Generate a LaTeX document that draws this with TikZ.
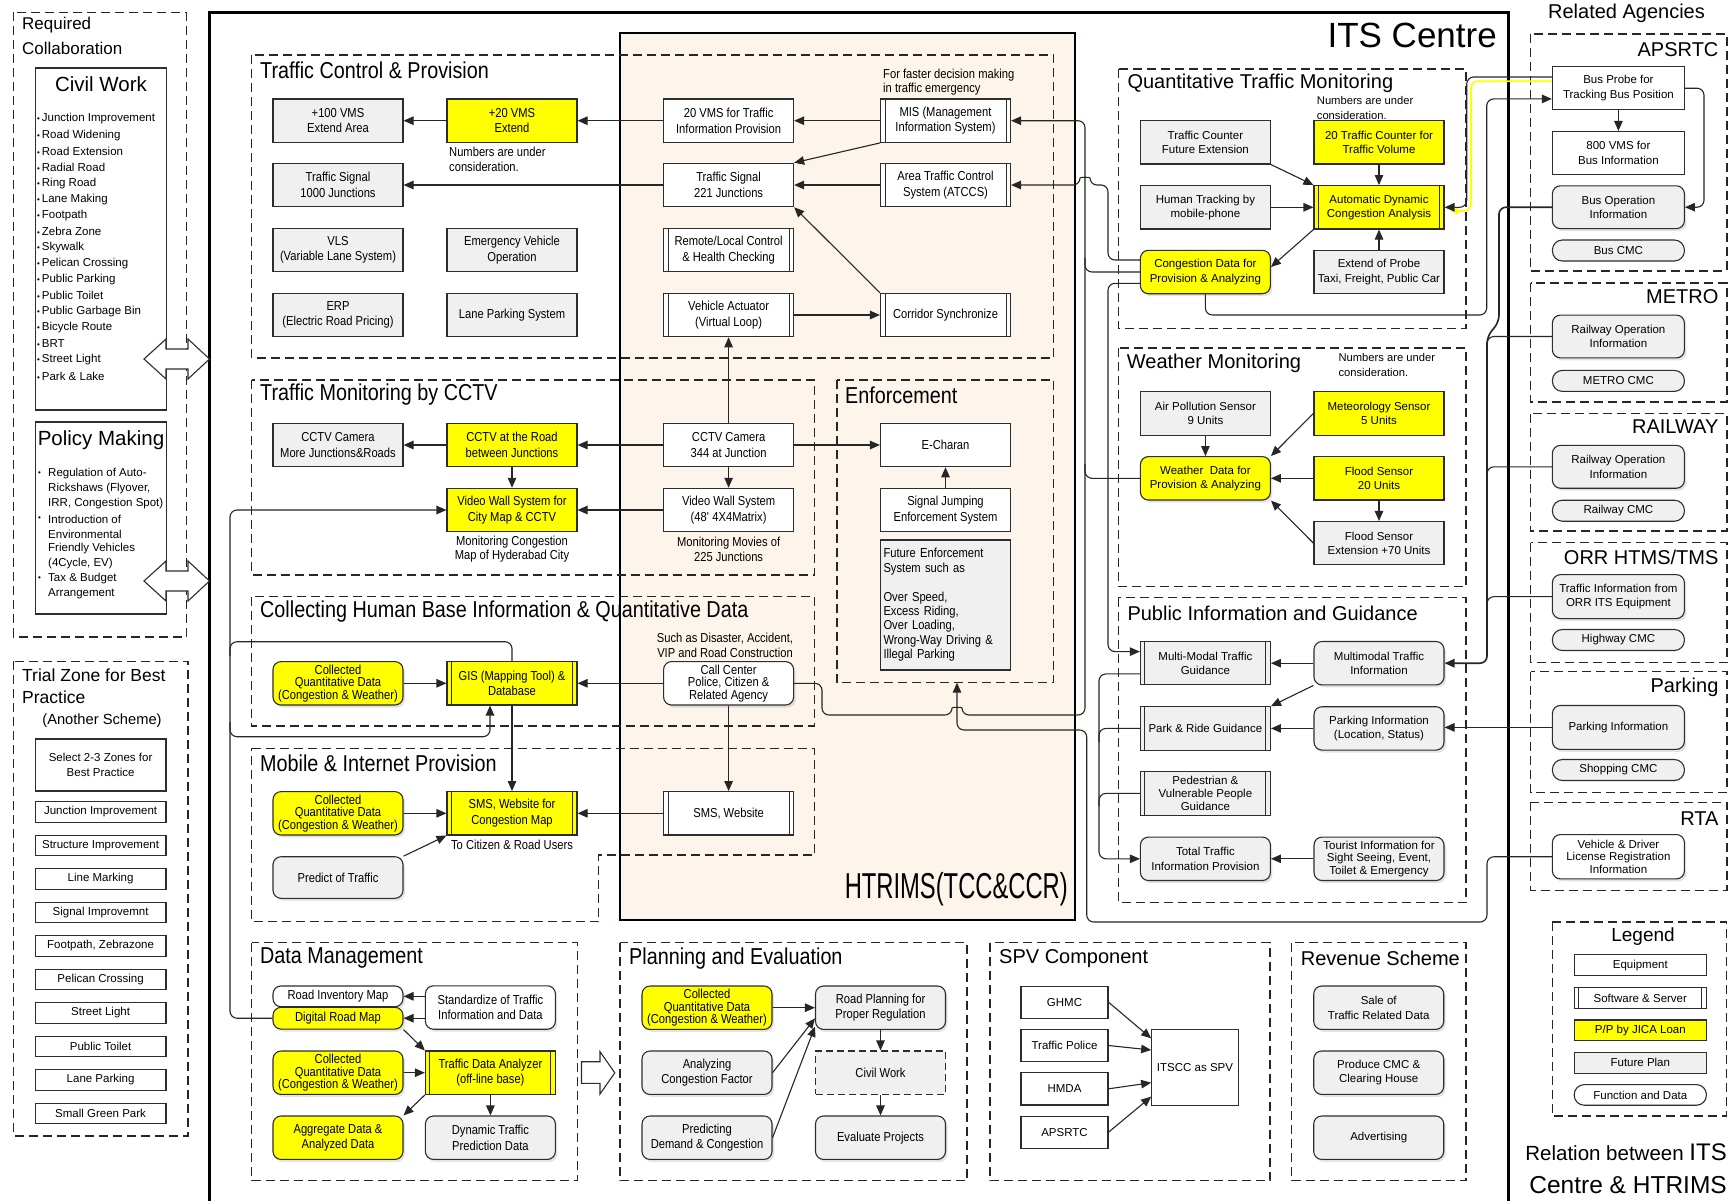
\documentclass[tikz,border=0pt]{standalone}
\usepackage{fontspec}
\setmainfont{Liberation Sans}
\newfontfamily\cond[FakeStretch=0.86]{Liberation Sans}
\newfontfamily\condwide[FakeStretch=0.66]{Liberation Sans}
\usetikzlibrary{arrows.meta,calc,shadows}
\definecolor{peach}{RGB}{253,244,235}
\definecolor{futgray}{RGB}{240,240,240}
\definecolor{jicayellow}{RGB}{255,255,0}
\definecolor{edge}{RGB}{45,45,45}
\begin{document}
\begin{tikzpicture}[x=1pt,y=-1pt,
  box/.style={draw=edge, line width=1.1pt, align=center, inner sep=1pt, fill=white,
    minimum width=130pt, minimum height=43.4pt},
  fm/.style={font=\cond\fontsize{13pt}{15.5pt}\selectfont},
  fmt/.style={font=\cond\fontsize{13pt}{12.6pt}\selectfont},
  fr/.style={font=\fontsize{11.5pt}{14.5pt}\selectfont},
  frt/.style={font=\fontsize{11.5pt}{12.6pt}\selectfont},
  jica/.style={fill=jicayellow},
  future/.style={fill=futgray},
  soft/.style={path picture={\draw[edge, line width=0.9pt]
      ([xshift=4.5pt]path picture bounding box.north west) -- ([xshift=4.5pt]path picture bounding box.south west)
      ([xshift=-4.5pt]path picture bounding box.north east) -- ([xshift=-4.5pt]path picture bounding box.south east);}},
  func/.style={box, rounded corners=8pt, drop shadow={shadow xshift=2pt, shadow yshift=-2.5pt, opacity=0.22}},
  pill/.style={box, rounded corners=10pt, minimum height=21pt},
  grp/.style={draw=black!85, line width=1.4pt, dash pattern=on 9pt off 5pt},
  gtitle/.style={anchor=west, inner sep=0pt, font=\cond\fontsize{23pt}{26pt}\selectfont},
  rtitle/.style={anchor=west, inner sep=0pt, font=\fontsize{20pt}{24pt}\selectfont},
  agtitle/.style={anchor=east, inner sep=0pt, font=\fontsize{20pt}{24pt}\selectfont},
  link/.style={draw=black!85, line width=1.1pt, rounded corners=7pt},
  arr/.style={link, -{Triangle[length=10pt,width=8.5pt]}},
  note/.style={inner sep=0pt, align=left, font=\cond\fontsize{13pt}{14.7pt}\selectfont},
  rnote/.style={inner sep=0pt, align=left, font=\fontsize{11.2pt}{15pt}\selectfont},
  listitem/.style={anchor=west, inner sep=0pt, font=\fontsize{11.5pt}{13pt}\selectfont},
  blockarrow/.style={fill=white, draw=edge, line width=1.1pt},
]
\useasboundingbox (0,0) rectangle (1729,1200);
\fill[white] (0,0) rectangle (1729,1200);

% ---------- frames ----------
\draw[line width=2pt, fill=peach] (620,33.3) rectangle (1075,920);
\draw[line width=2.6pt] (209.5,1210) -- (209.5,12.7) -- (1508.3,12.7) -- (1508.3,1210);
\node[anchor=east, inner sep=0pt, font=\fontsize{35pt}{40pt}\selectfont] at (1497,35.5) {ITS Centre};
\node[anchor=east, inner sep=0pt, font=\condwide\fontsize{36pt}{40pt}\selectfont] at (1068,889) {HTRIMS(TCC\&CCR)};

% ---------- left column ----------
\draw[grp] (13.4,12.3) rectangle (186.2,637);
\node[anchor=west, inner sep=0pt, font=\fontsize{17pt}{20pt}\selectfont] at (22,25.4) {Required};
\node[anchor=west, inner sep=0pt, font=\fontsize{17pt}{20pt}\selectfont] at (22,48.4) {Collaboration};
\draw[draw=edge, line width=1.1pt] (35.2,68) rectangle (166.8,410);
\node[inner sep=0pt, font=\fontsize{20.5pt}{24pt}\selectfont] at (101,84) {Civil Work};
\foreach \t [count=\i from 0] in {Junction Improvement, Road Widening, Road Extension, Radial Road,
  Ring Road, Lane Making, Footpath, Zebra Zone, Skywalk, Pelican Crossing, Public Parking,
  Public Toilet, Public Garbage Bin, Bicycle Route, BRT, Street Light, Park \& Lake}
  {\node[listitem] at (37,119+16.06*\i) {{\fontsize{8pt}{8pt}\selectfont\textbullet}\,\t};}
\draw[draw=edge, line width=1.1pt] (35.2,422) rectangle (166.8,614);
\node[inner sep=0pt, font=\fontsize{20.5pt}{24pt}\selectfont] at (101,440) {Policy Making};
\foreach \yy in {474,519,579}
  {\node[listitem] at (38,\yy) {{\fontsize{8pt}{8pt}\selectfont\textbullet}};}
\node[listitem] at (48,474) {Regulation of Auto-};
\node[listitem] at (48,489) {Rickshaws (Flyover,};
\node[listitem] at (48,504) {IRR, Congestion Spot)};
\node[listitem] at (48,519) {Introduction of};
\node[listitem] at (48,534) {Environmental};
\node[listitem] at (48,549) {Friendly Vehicles};
\node[listitem] at (48,564) {(4Cycle, EV)};
\node[listitem] at (48,579) {Tax \& Budget};
\node[listitem] at (48,594) {Arrangement};

\draw[grp] (13.4,661.4) rectangle (188,1136);
\node[anchor=west, inner sep=0pt, font=\fontsize{17.5pt}{20pt}\selectfont] at (22,675.6) {Trial Zone for Best};
\node[anchor=west, inner sep=0pt, font=\fontsize{17.5pt}{20pt}\selectfont] at (22,697) {Practice};
\node[inner sep=0pt, font=\fontsize{14.7pt}{17pt}\selectfont] at (102,720.2) {(Another Scheme)};
\begin{scope}[every node/.style={box, fr, minimum width=130.8pt, minimum height=20.5pt}]
\node[minimum height=52pt] (tzsel) at (100.6,765) {Select 2-3 Zones for\\Best Practice};
\node (tz1) at (100.6,812) {Junction Improvement};
\node (tz2) at (100.6,845.5) {Structure Improvement};
\node (tz3) at (100.6,879) {Line Marking};
\node (tz4) at (100.6,912.5) {Signal Improvemnt};
\node (tz5) at (100.6,946) {Footpath, Zebrazone};
\node (tz6) at (100.6,979.5) {Pelican Crossing};
\node (tz7) at (100.6,1013) {Street Light};
\node (tz8) at (100.6,1046.5) {Public Toilet};
\node (tz9) at (100.6,1080) {Lane Parking};
\node (tz10) at (100.6,1113.5) {Small Green Park};
\end{scope}

% ---------- groups inside the ITS centre ----------
\draw[grp] (251.6,55) rectangle (1053.7,358);
\draw[grp] (251.6,380) rectangle (814.4,575);
\draw[grp] (837,380) rectangle (1053.7,682.7);
\draw[grp] (251.6,596.7) rectangle (814.4,726);
\draw[grp] (251.6,748.3) -- (814.4,748.3) -- (814.4,855) -- (598.5,855) -- (598.5,921.7) -- (251.6,921.7) -- cycle;
\draw[grp] (251.6,942.7) rectangle (577.2,1180.7);
\draw[grp] (620,942.7) rectangle (966.8,1180.7);
\draw[grp] (990,942.7) rectangle (1270,1180.7);
\draw[grp] (1291.7,942.7) rectangle (1466,1180.7);
\draw[grp] (1118.3,69) rectangle (1466,328.3);
\draw[grp] (1118.3,348) rectangle (1466,586.5);
\draw[grp] (1118.3,597.7) rectangle (1466,902.5);

\node[gtitle] at (260,70.7) {Traffic Control \& Provision};
\node[gtitle] at (260,395) {Traffic Monitoring by CCTV};
\node[gtitle] at (845,395) {Enforcement};
\node[gtitle] at (260,611.7) {Collecting Human Base Information \& Quantitative Data};
\node[gtitle] at (260,763.3) {Mobile \& Internet Provision};
\node[gtitle] at (260,958.3) {Data Management};
\node[gtitle] at (629,958.3) {Planning and Evaluation};
\node[rtitle] at (999,958.3) {SPV Component};
\node[rtitle] at (1300.7,958.3) {Revenue Scheme};
\node[rtitle] at (1127.3,83.3) {Quantitative Traffic Monitoring};
\node[rtitle] at (1126.7,363.5) {Weather Monitoring};
\node[rtitle] at (1127.3,613.3) {Public Information and Guidance};

% ---------- related agencies ----------
\node[inner sep=0pt, font=\fontsize{20pt}{24pt}\selectfont] at (1626.5,13) {Related Agencies};
\draw[grp] (1530.5,33.9) rectangle (1726.8,271);
\draw[grp] (1530.5,283) rectangle (1726.8,402);
\draw[grp] (1530.5,413.6) rectangle (1726.8,531);
\draw[grp] (1530.5,542.5) rectangle (1726.8,662.4);
\draw[grp] (1530.5,671.6) rectangle (1726.8,792.3);
\draw[grp] (1530.5,802.4) rectangle (1726.8,890.2);
\draw[grp] (1552.3,921.9) rectangle (1726.6,1116);
\node[agtitle] at (1718.6,50) {APSRTC};
\node[agtitle] at (1718.6,296.4) {METRO};
\node[agtitle] at (1718.6,426.8) {RAILWAY};
\node[agtitle] at (1718.6,557) {ORR HTMS/TMS};
\node[agtitle] at (1718.6,687.7) {Parking};
\node[agtitle] at (1718.6,818.5) {RTA};
\node[inner sep=0pt, font=\fontsize{19pt}{22pt}\selectfont] at (1643,937) {Legend};
\node[anchor=east, inner sep=0pt] at (1727,1152) {\fontsize{20.5pt}{24pt}\selectfont Relation between \fontsize{24pt}{28pt}\selectfont ITS};
\node[anchor=east, inner sep=0pt, font=\fontsize{24.5pt}{28pt}\selectfont] at (1727,1185) {Centre \& HTRIMS};

% ---------- notes ----------
\node[note, anchor=west] at (449,159.4) {Numbers are under\\consideration.};
\node[note, anchor=west] at (883,82.2) {For faster decision making\\in traffic emergency};
\node[note, align=center] at (512,549.2) {Monitoring Congestion\\Map of Hyderabad City};
\node[note, align=center] at (728.6,549.2) {Monitoring Movies of\\225 Junctions};
\node[note, align=center] at (725,645) {Such as Disaster, Accident,\\VIP and Road Construction};
\node[note, align=center] at (512,845) {To Citizen \& Road Users};
\node[rnote, anchor=west] at (1316.7,107.5) {Numbers are under\\consideration.};
\node[rnote, anchor=west] at (1338.3,365.4) {Numbers are under\\consideration.};

% ---------- block arrows ----------
\foreach \yy in {359,581}
  {\draw[blockarrow] (144,\yy) -- (166,\yy-20) -- (166,\yy-10) -- (188,\yy-10) -- (188,\yy-20) -- (209.5,\yy)
     -- (188,\yy+20) -- (188,\yy+10) -- (166,\yy+10) -- (166,\yy+20) -- cycle;}
\draw[blockarrow] (581.5,1061.7) -- (600,1061.7) -- (600,1051.7) -- (614.8,1072.8) -- (600,1094) -- (600,1083.3) -- (581.5,1083.3) -- cycle;

% ---------- nodes: traffic control & provision ----------
\node[box,future,fm] (vms100) at (338,120.7) {+100 VMS\\Extend Area};
\node[box,jica,fm] (vms20x) at (512,120.7) {+20 VMS\\Extend};
\node[box,fm] (vms20) at (728.6,120.7) {20 VMS for Traffic\\Information Provision};
\node[box,soft,fm] (mis) at (945.5,120.7) {MIS (Management\\Information System)};
\node[box,future,fm] (ts1000) at (338,185) {Traffic Signal\\1000 Junctions};
\node[box,fm] (ts221) at (728.6,185) {Traffic Signal\\221 Junctions};
\node[box,soft,fm] (atccs) at (945.5,185) {Area Traffic Control\\System (ATCCS)};
\node[box,future,fm] (vls) at (338,250) {VLS\\(Variable Lane System)};
\node[box,future,fm] (evo) at (512,250) {Emergency Vehicle\\Operation};
\node[box,soft,fm] (remote) at (728.6,250) {Remote/Local Control\\\& Health Checking};
\node[box,future,fm] (erp) at (338,315) {ERP\\(Electric Road Pricing)};
\node[box,future,fm] (lps) at (512,315) {Lane Parking System};
\node[box,soft,fm] (vact) at (728.6,315) {Vehicle Actuator\\(Virtual Loop)};
\node[box,soft,fm] (corr) at (945.5,315) {Corridor Synchronize};

% ---------- nodes: CCTV and enforcement ----------
\node[box,future,fm] (cctvmore) at (338,445) {CCTV Camera\\More Junctions\&Roads};
\node[box,jica,fm] (cctvroad) at (512,445) {CCTV at the Road\\between Junctions};
\node[box,fm] (cctv344) at (728.6,445) {CCTV Camera\\344 at Junction};
\node[box,fm] (echaran) at (945.5,445) {E-Charan};
\node[box,jica,fm] (vwall) at (512,510) {Video Wall System for\\City Map \& CCTV};
\node[box,fm] (vwall48) at (728.6,510) {Video Wall System\\(48\textquotesingle{} 4X4Matrix)};
\node[box,fm] (sjump) at (945.5,510) {Signal Jumping\\Enforcement System};
\node[box,future,font=\cond\fontsize{13pt}{14.4pt}\selectfont, minimum height=130pt, text width=124pt, align=left]
  (futenf) at (945.5,605) {Future Enforcement\\System such as\\[14.4pt]Over Speed,\\Excess Riding,\\Over Loading,\\Wrong-Way Driving \&\\Illegal Parking};

% ---------- nodes: collecting and mobile ----------
\node[func,jica,fmt] (coll1) at (338,683.3) {Collected\\Quantitative Data\\(Congestion \& Weather)};
\node[box,jica,soft,fm] (gis) at (512,683.3) {GIS (Mapping Tool) \&\\Database};
\node[func,fmt] (callc) at (728.6,683.3) {Call Center\\Police, Citizen \&\\Related Agency};
\node[func,jica,fmt] (coll2) at (338,813.3) {Collected\\Quantitative Data\\(Congestion \& Weather)};
\node[box,jica,soft,fm] (smsweb) at (512,813.3) {SMS, Website for\\Congestion Map};
\node[box,soft,fm] (sms) at (728.6,813.3) {SMS, Website};
\node[func,future,fm,minimum height=41.6pt] (predict) at (338,877.5) {Predict of Traffic};

% ---------- nodes: data management ----------
\node[func,fm,minimum height=20.7pt] (rim) at (338,996.3) {Road Inventory Map};
\node[func,jica,fm,minimum height=21.7pt] (drm) at (338,1018.2) {Digital Road Map};
\node[func,fm] (std) at (490.4,1007.5) {Standardize of Traffic\\Information and Data};
\node[func,jica,fmt] (coll3) at (338,1072.7) {Collected\\Quantitative Data\\(Congestion \& Weather)};
\node[box,jica,soft,fm] (tda) at (490.4,1072.7) {Traffic Data Analyzer\\(off-line base)};
\node[func,jica,fm] (aggr) at (338,1137.7) {Aggregate Data \&\\Analyzed Data};
\node[func,future,fm] (dyn) at (490.4,1137.7) {Dynamic Traffic\\Prediction Data};

% ---------- nodes: planning and evaluation ----------
\node[func,jica,fmt] (coll4) at (707,1007.7) {Collected\\Quantitative Data\\(Congestion \& Weather)};
\node[func,future,fm] (rplan) at (880.5,1007.7) {Road Planning for\\Proper Regulation};
\node[func,future,fm] (anal) at (707,1072.7) {Analyzing\\Congestion Factor};
\node[box,future,fm,dash pattern=on 7pt off 4pt] (civ) at (880.5,1072.7) {Civil Work};
\node[func,future,fm] (pred) at (707,1137.7) {Predicting\\Demand \& Congestion};
\node[func,future,fm] (evalp) at (880.5,1137.7) {Evaluate Projects};

% ---------- nodes: SPV and revenue ----------
\begin{scope}[every node/.append style={fr}]
\node[box,minimum width=87pt,minimum height=32.3pt] (ghmc) at (1064.5,1002.2) {GHMC};
\node[box,minimum width=87pt,minimum height=32.3pt] (tpol) at (1064.5,1045.5) {Traffic Police};
\node[box,minimum width=87pt,minimum height=32.3pt] (hmda) at (1064.5,1088.8) {HMDA};
\node[box,minimum width=87pt,minimum height=32.3pt] (aps) at (1064.5,1132.2) {APSRTC};
\node[box,minimum width=86.6pt,minimum height=75.7pt] (itscc) at (1195,1067.2) {ITSCC as SPV};
\node[func,future] (sale) at (1378.7,1007.7) {Sale of\\Traffic Related Data};
\node[func,future] (cmc) at (1378.7,1072.7) {Produce CMC \&\\Clearing House};
\node[func,future] (adv) at (1378.7,1137.7) {Advertising};

% ---------- nodes: quantitative traffic monitoring ----------
\node[box,future] (tcfut) at (1205.4,142.3) {Traffic Counter\\Future Extension};
\node[box,jica] (tc20) at (1379,142.3) {20 Traffic Counter for\\Traffic Volume};
\node[box,future] (human) at (1205.4,207.3) {Human Tracking by\\mobile-phone};
\node[box,jica,soft] (adca) at (1379,207.3) {Automatic Dynamic\\Congestion Analysis};
\node[func,jica] (cong) at (1205.4,272) {Congestion Data for\\Provision \& Analyzing};
\node[box,future] (probe) at (1379,272) {Extend of Probe\\Taxi, Freight, Public Car};

% ---------- nodes: weather monitoring ----------
\node[box,future] (air) at (1205.4,413.4) {Air Pollution Sensor\\9 Units};
\node[box,jica] (meteo) at (1379,413.4) {Meteorology Sensor\\5 Units};
\node[func,jica] (wdata) at (1205.4,478.3) {Weather\ \ Data for\\Provision \& Analyzing};
\node[box,jica] (flood) at (1379,478.3) {Flood Sensor\\20 Units};
\node[box,future] (floodx) at (1379,543.2) {Flood Sensor\\Extension +70 Units};

% ---------- nodes: public information ----------
\node[box,future,soft] (mmg) at (1205.4,663.2) {Multi-Modal Traffic\\Guidance};
\node[func,future] (mmi) at (1379,663.2) {Multimodal Traffic\\Information};
\node[box,future,soft] (pnr) at (1205.4,728.4) {Park \& Ride Guidance};
\node[func,future] (pinfo) at (1379,728.4) {Parking Information\\(Location, Status)};
\node[box,future,soft,frt] (ped) at (1205.4,793.4) {Pedestrian \&\\Vulnerable People\\Guidance};
\node[func,future] (total) at (1205.4,858.8) {Total Traffic\\Information Provision};
\node[func,future,frt] (tour) at (1379,858.8) {Tourist Information for\\Sight Seeing, Event,\\Toilet \& Emergency};

% ---------- nodes: agencies ----------
\node[box,minimum width=132pt,minimum height=42.8pt] (busprobe) at (1618.4,88.2) {Bus Probe for\\Tracking Bus Position};
\node[box,minimum width=132pt,minimum height=42.8pt] (vms800) at (1618.4,152.9) {800 VMS for\\Bus Information};
\node[func,future,minimum width=132pt,minimum height=42.8pt] (busops) at (1618.4,207.2) {Bus Operation\\Information};
\node[pill,future,minimum width=132pt] (buscmc) at (1618.4,250.5) {Bus CMC};
\node[func,future,minimum width=132pt,minimum height=42.8pt] (metroop) at (1618.4,336.5) {Railway Operation\\Information};
\node[pill,future,minimum width=132pt] (metrocmc) at (1618.4,380.9) {METRO CMC};
\node[func,future,minimum width=132pt,minimum height=42.8pt] (railop) at (1618.4,466.8) {Railway Operation\\Information};
\node[pill,future,minimum width=132pt] (railcmc) at (1618.4,510.7) {Railway CMC};
\node[func,future,minimum width=132pt,minimum height=43.9pt] (orrinfo) at (1618.4,596.6) {Traffic Information from\\ORR ITS Equipment};
\node[pill,future,minimum width=132pt] (hwcmc) at (1618.4,640) {Highway CMC};
\node[func,future,minimum width=132pt,minimum height=43.9pt] (parkag) at (1618.4,727.4) {Parking Information};
\node[pill,future,minimum width=132pt] (shopcmc) at (1618.4,770) {Shopping CMC};
\node[func,frt,minimum width=132pt,minimum height=44.3pt] (rta) at (1618.4,856.7) {Vehicle \& Driver\\License Registration\\Information};

% ---------- legend ----------
\node[box,minimum width=132.2pt,minimum height=20.6pt] (lgeq) at (1640.3,965.1) {Equipment};
\node[box,soft,minimum width=132.2pt,minimum height=20.6pt] (lgsw) at (1640.3,997.9) {Software \& Server};
\node[box,jica,minimum width=132.2pt,minimum height=20.6pt] (lgpp) at (1640.3,1030.3) {P/P by JICA Loan};
\node[box,future,minimum width=132.2pt,minimum height=20.6pt] (lgfp) at (1640.3,1062.8) {Future Plan};
\node[pill,minimum width=132.2pt,minimum height=20.6pt] (lgfd) at (1640.3,1094.9) {Function and Data};
\end{scope}

% ---------- connectors: traffic control ----------
\draw[arr] (mis) -- (vms20);
\draw[arr] (vms20) -- (vms20x);
\draw[arr] (vms20x) -- (vms100);
\draw[arr] (mis.south west) -- (ts221.north east);
\draw[arr] (atccs) -- (ts221);
\draw[arr] (ts221) -- (ts1000);
\draw[arr] (corr.north west) -- (ts221.south east);
\draw[arr] (vact) -- (corr);
\draw[arr] (cctv344) -- (vact);

% ---------- connectors: CCTV and enforcement ----------
\draw[arr] (cctv344) -- (cctvroad);
\draw[arr] (cctvroad) -- (cctvmore);
\draw[arr] (cctvroad) -- (vwall);
\draw[arr] (cctv344) -- (vwall48);
\draw[arr] (vwall48) -- (vwall);
\draw[arr] (cctv344) -- (echaran);
\draw[arr] (sjump) -- (echaran);

% ---------- connectors: map data on the left ----------
\draw[arr] (drm.west) -- (230,1018.2) -- (230,510) -- (vwall.west);
\draw[link] (gis.north) -- (512,641.7) -- (230,641.7) -- (230,656);
\draw[arr] (230,722) -- (230,736.7) -- (490,736.7) -- ($(gis.south)+(-22,0)$);
\draw[arr] (coll1) -- (gis);
\draw[arr] (callc) -- (gis);
\draw[arr] (gis) -- (smsweb);
\draw[arr] (callc) -- (sms);
\draw[arr] (coll2) -- (smsweb);
\draw[arr] (sms) -- (smsweb);
\draw[arr] (predict.north east) -- (smsweb.south west);

% ---------- connectors: data management and planning ----------
\draw[arr] (rim.east -| std.west) -- (rim.east);
\draw[arr] (drm.east -| std.west) -- (drm.east);
\draw[arr] (drm.south east) -- (tda.north west);
\draw[arr] (coll3) -- (tda);
\draw[arr] (tda.south west) -- (aggr.north east);
\draw[arr] (tda) -- (dyn);
\draw[arr] (coll4) -- (rplan);
\draw[arr] (anal.east) -- ($(rplan.west)+(0,10.6)$);
\draw[arr] (pred.east) -- ($(rplan.west)+(0,19)$);
\draw[arr] (rplan) -- (civ);
\draw[arr] (civ) -- (evalp);
\draw[arr] (ghmc.east) -- ($(itscc.west)+(0,-28.9)$);
\draw[arr] (tpol.east) -- ($(itscc.west)+(0,-17.2)$);
\draw[arr] (hmda.east) -- ($(itscc.west)+(0,15.5)$);
\draw[arr] (aps.east) -- ($(itscc.west)+(0,29.5)$);

% ---------- connectors: quantitative traffic and weather ----------
\draw[arr] (tcfut.south east) -- (adca.north west);
\draw[arr] (tc20) -- (adca);
\draw[arr] (human) -- (adca);
\draw[arr] (probe) -- (adca);
\draw[arr] (adca.south west) -- ($(cong.east)+(0,-5)$);
\draw[arr] (air) -- (wdata);
\draw[arr] (meteo.west) -- (wdata.north east);
\draw[arr] (flood) -- (wdata);
\draw[arr] (flood) -- (floodx);
\draw[arr] (floodx.west) -- (wdata.south east);

% ---------- connectors: public information ----------
\draw[arr] (mmi) -- (mmg);
\draw[arr] (mmi.south west) -- (pnr.north east);
\draw[arr] (pinfo) -- (pnr);
\draw[arr] (tour) -- (total);
\draw[arr] ($(mmg.west)+(0,10.7)$) -- (1099,673.9) -- (1099,858.8) -- (total.west);
\draw[link] (pnr.west) -- (1099,728.4) -- (1099,742);
\draw[link] (ped.west) -- (1099,793.4) -- (1099,806);

% ---------- connectors: feeds into the HTRIMS servers ----------
\draw[arr] (callc.east) -- (822,683.3) -- (822,715) -- (952,715)
  .. controls (952,707) and (962,707) .. (962,715) -- (1085,715) -- (1085,120.7) -- (mis.east);
\draw[link] (cong.west) -- (1085,272) -- (1085,258);
\draw[link] (wdata.west) -- (1085,478.3) -- (1085,464);
\draw[arr] ($(cong.west)+(0,-12)$) -- (1108,260) -- (1108,185) -- (1090,185)
  .. controls (1090,177) and (1080,177) .. (1080,185) -- (atccs.east);
\draw[arr] ($(cong.west)+(0,11.3)$) -- (1108,283.3) -- (1108,651.6) -- ($(mmg.west)+(0,-11.6)$);
\coordinate (enfin) at (957,682.7);
\draw[arr] (rta.west) -- (1487,856.7) -- (1487,922) -- (1086.7,922) -- (1086.7,730) -- (957,730) -- (enfin);

% ---------- connectors: agencies ----------
\draw[arr] (cong.south) -- (1205.4,315) -- (1486.7,315) -- (1486.7,98.9) -- ($(busprobe.west)+(0,10.7)$);
\draw[draw=jicayellow, line width=1.6pt, rounded corners=7pt, -{Triangle[length=8pt,width=7pt]}]
  ($(busprobe.west)+(0,-7)$) -- (1471,81.2) -- (1471,211) -- (1450,211);
\draw[arr] ($(busprobe.west)+(0,-11.2)$) -- (1466.7,77) -- (1466.7,207.3) -- (adca.east);
\draw[arr] (busprobe.east) -- (1704,88.2) -- (1704,207.2) -- (busops.east);
\draw[arr] (busprobe) -- (vms800);
\draw[arr, line width=1.6pt] (busops.west) -- (1499,207.2) -- (1499,322) -- (1487,336.5) -- (1487,663.2) -- (mmi.east);
\draw[link] (metroop.west) -- (1487,336.5) -- (1487,350);
\draw[link] (railop.west) -- (1487,466.8) -- (1487,480);
\draw[link] (orrinfo.west) -- (1487,596.6) -- (1487,610);
\draw[arr] (parkag.west) -- (parkag.west -| pinfo.east);
\end{tikzpicture}
\end{document}
